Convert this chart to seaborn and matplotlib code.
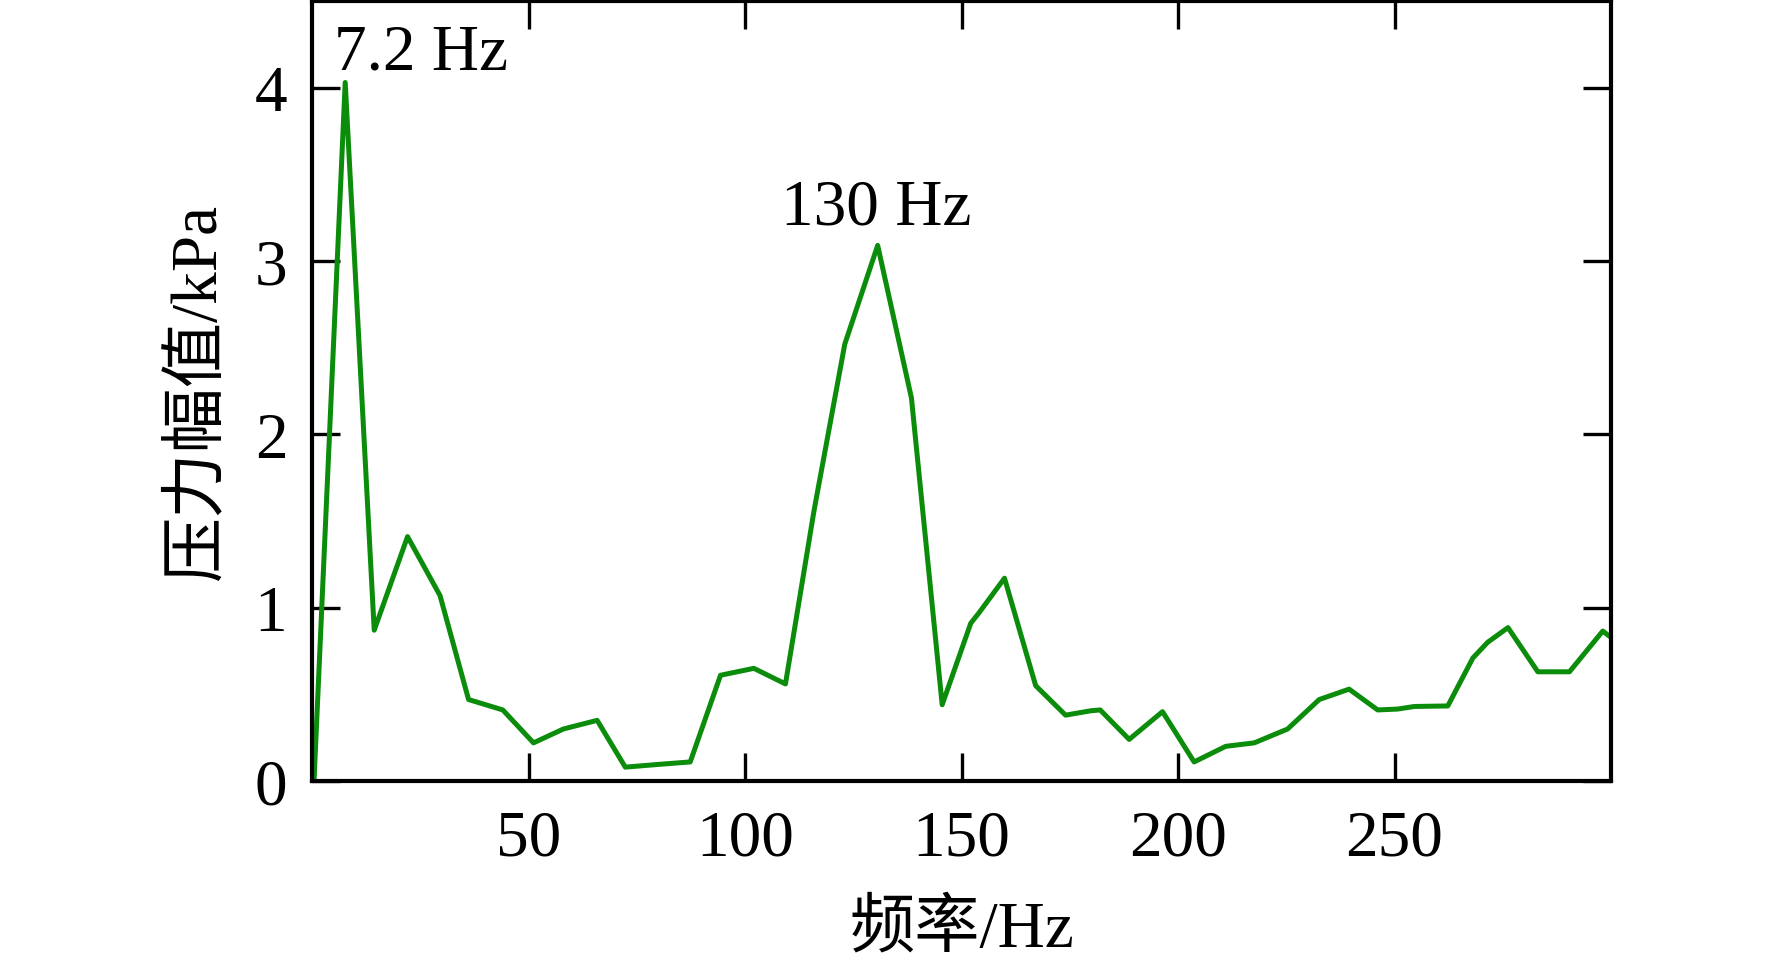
import matplotlib
matplotlib.use("Agg")
import matplotlib.pyplot as plt
import seaborn as sns
import pandas as pd

freq = [0.4, 7.6, 14.3, 22.0, 29.5, 36.1, 44.0, 51.1, 58.0, 65.8,
        72.3, 79.6, 87.3, 94.3, 102.0, 109.3, 115.9, 123.0, 130.6, 138.4,
        145.5, 152.1, 154.0, 159.9, 167.1, 174.0, 179.8, 182.0, 188.7, 196.4,
        203.7, 211.0, 217.6, 225.3, 232.6, 239.5, 246.1, 250.7, 254.6, 262.3,
        268.1, 271.5, 276.2, 283.1, 290.4, 298.1, 299.9]
amp = [0.0, 4.03, 0.87, 1.41, 1.07, 0.47, 0.41, 0.22, 0.30, 0.35,
       0.08, 0.095, 0.11, 0.61, 0.65, 0.56, 1.56, 2.52, 3.09, 2.21,
       0.44, 0.91, 0.97, 1.17, 0.55, 0.38, 0.405, 0.41, 0.24, 0.40,
       0.11, 0.20, 0.22, 0.30, 0.47, 0.53, 0.41, 0.415, 0.43, 0.433,
       0.71, 0.80, 0.885, 0.63, 0.63, 0.865, 0.83]
xticks = [50, 100, 150, 200, 250]
yticks = [0, 1, 2, 3, 4]
peak_labels = ["7.2 Hz", "130 Hz"]
peak_pos = [(25.1, 4.11), (130.2, 3.216)]
xlabel = "频率/Hz"
ylabel = "压力幅值/kPa"

sns.set_theme(style="ticks")
plt.rcParams['font.family'] = ['Liberation Serif', 'Noto Sans CJK SC']
plt.rcParams['axes.unicode_minus'] = False

df = pd.DataFrame({"f": freq, "a": amp})

fig = plt.figure(figsize=(17.72, 9.70), dpi=100)
ax = fig.add_axes([312.3 / 1772, 1 - 782 / 970, (1611 - 312.3) / 1772, 780 / 970])

sns.lineplot(data=df, x="f", y="a", ax=ax, color="#0b8c0b", linewidth=3.6,
             estimator=None, sort=False)

ax.set_xlim(0, 300)
ax.set_ylim(0, 4.5)
ax.set_xticks(xticks)
ax.set_yticks(yticks)
ax.tick_params(axis="both", direction="in", length=20, width=2.4,
               labelsize=47, colors="black", top=True, right=True)
ax.tick_params(axis="x", pad=20)
ax.tick_params(axis="y", pad=18)
for s in ax.spines.values():
    s.set_linewidth(3.0)
    s.set_color("black")

ax.set_xlabel(xlabel, fontsize=47, color="black")
ax.set_ylabel(ylabel, fontsize=47, color="black")
ax.xaxis.set_label_coords(0.5, -0.151)
ax.yaxis.set_label_coords(-0.0647, 0.5)

ax.text(peak_pos[0][0], peak_pos[0][1], peak_labels[0], fontsize=47,
        ha="center", va="baseline", color="black")
ax.text(peak_pos[1][0], peak_pos[1][1], peak_labels[1], fontsize=47,
        ha="center", va="baseline", color="black")

fig.savefig("out.png", dpi=100, facecolor="white")
